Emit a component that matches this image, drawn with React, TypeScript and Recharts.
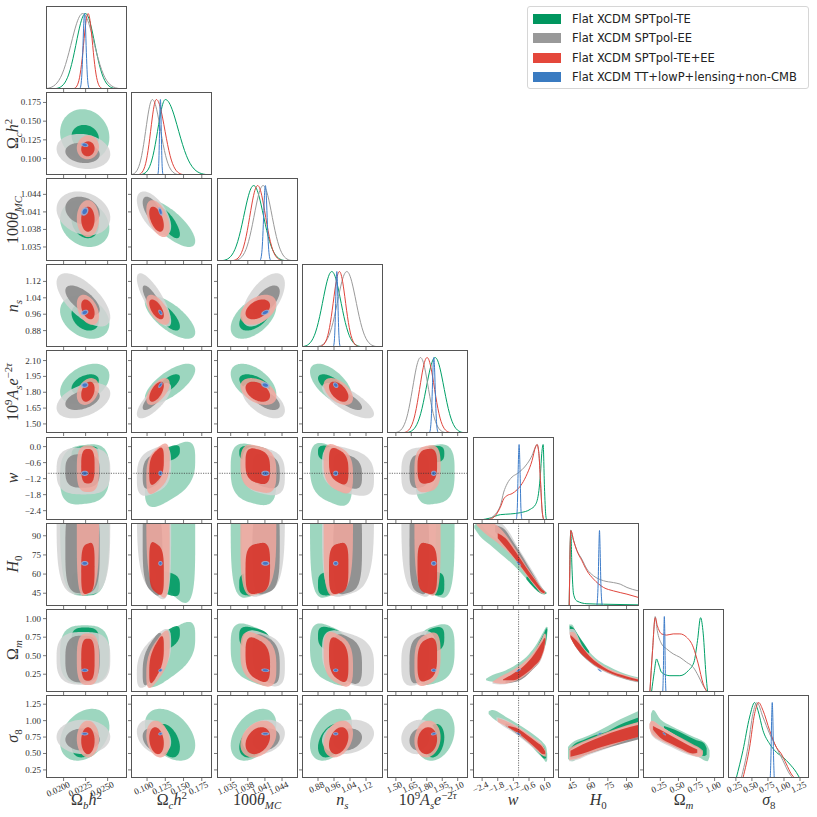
import { ComposedChart, Area, Line, XAxis, YAxis, ReferenceLine } from 'recharts'

// ---- layout of the triangle grid (pixels) ----
const PANEL_LEFT0 = 46
const COL_STEP = 85.3
const PANEL_TOP0 = 6
const ROW_STEP = 86.1
const PW = 81
const PH = 83
const YW = 45
const XH = 50
const panelLeft = (c: number) => PANEL_LEFT0 + COL_STEP * c
const panelTop = (r: number) => PANEL_TOP0 + ROW_STEP * r

// ---- parameters: axis ranges and ticks ----
const paramDomains: [number, number][] = [
  [0.018, 0.0272], [0.078, 0.189], [1.0326, 1.0468], [0.8, 1.205], [1.414, 2.2],
  [-2.75, 0.36], [35, 100], [0.01, 1.13], [0.127, 1.39],
]
const paramTicks = [
  [0.02, 0.0225, 0.025], [0.1, 0.125, 0.15, 0.175], [1.035, 1.038, 1.041, 1.044],
  [0.88, 0.96, 1.04, 1.12], [1.5, 1.65, 1.8, 1.95, 2.1], [-2.4, -1.8, -1.2, -0.6, 0],
  [45, 60, 75, 90], [0.25, 0.5, 0.75, 1.0], [0.25, 0.5, 0.75, 1.0, 1.25],
]
const paramTickLabels = [
  ['0.0200', '0.0225', '0.0250'], ['0.100', '0.125', '0.150', '0.175'],
  ['1.035', '1.038', '1.041', '1.044'], ['0.88', '0.96', '1.04', '1.12'],
  ['1.50', '1.65', '1.80', '1.95', '2.10'], ['\u22122.4', '\u22121.8', '\u22121.2', '\u22120.6', '0.0'],
  ['45', '60', '75', '90'], ['0.25', '0.50', '0.75', '1.00'], ['0.25', '0.50', '0.75', '1.00', '1.25'],
]
// how square the filled regions look for each parameter (2 = round)
const paramBoxiness = [2, 2, 2, 2, 2, 3, 3.5, 3, 2]

// ---- series ----
const seriesNames = [
  'Flat XCDM SPTpol-TE',
  'Flat XCDM SPTpol-EE',
  'Flat XCDM SPTpol-TE+EE',
  'Flat XCDM TT+lowP+lensing+non-CMB',
]
const legendColors = ['#00965f', '#999999', '#e4473b', '#3a7bc1']
const darkColors = ['#009a63', '#8a8a8a', '#d6342a', '#3b70c4']
const lightColors = ['#8ccfb4', '#d4d4d4', '#f1a79d', '#8cb1e2']
const lineColors = ['#00a067', '#9a9a9a', '#e0453c', '#3d7cc9']

// 2D contour extents per parameter: [lo95, lo68, hi68, hi95]
const teRanges = [
  [0.0196, 0.0209, 0.024, 0.0252], [0.097, 0.112, 0.145, 0.166], [1.035, 1.0365, 1.0419, 1.043],
  [0.84, 0.88, 1.01, 1.05], [1.69, 1.78, 1.97, 2.07], [-2.15, -0.6, 0.02, 0.07],
  [43, 43.5, 62, 175], [0.12, 0.55, 0.88, 0.91], [0.39, 0.44, 0.95, 1.18],
]
const eeRanges = [
  [0.0192, 0.0202, 0.0241, 0.0253], [0.086, 0.094, 0.121, 0.133], [1.037, 1.0388, 1.0436, 1.0445],
  [0.9, 0.956, 1.1, 1.16], [1.553, 1.632, 1.823, 1.887], [-1.79, -1.54, -0.28, -0.03],
  [43.7, 45, 115, 170], [0.108, 0.139, 0.77, 0.82], [0.49, 0.545, 0.88, 1.015],
]
const teeeRanges = [
  [0.0215, 0.022, 0.02352, 0.02402], [0.099, 0.103, 0.123, 0.131], [1.0367, 1.0376, 1.0419, 1.043],
  [0.908, 0.935, 1.032, 1.055], [1.68, 1.71, 1.9, 1.934], [-1.7, -1.38, -0.09, 0.04],
  [44.3, 44.8, 84, 150], [0.104, 0.162, 0.73, 0.8], [0.44, 0.49, 0.9, 1.0],
]
const plRanges = [
  [0.02198, 0.02214, 0.02266, 0.02282], [0.1153, 0.1165, 0.1201, 0.1213], [1.04035, 1.04062, 1.04154, 1.04181],
  [0.955, 0.96, 0.977, 0.982], [1.84, 1.852, 1.884, 1.895], [-1.1, -1.06, -0.94, -0.9],
  [66.5, 67.3, 69.5, 70.3], [0.28, 0.288, 0.318, 0.326], [0.775, 0.788, 0.812, 0.825],
]

// tilt (correlation) of each 2D panel, row by row below the diagonal
const teCorr = [-0.1, -0.2, -0.75, -0.3, -0.7, 0.5, 0.4, 0.7, -0.5, -0.6, 0.1, 0.5, -0.2, -0.3, 0.1,
  0, -0.3, 0.1, 0.1, -0.1, 0, 0, 0.6, -0.3, -0.3, 0.2, 0, 0, 0.3, -0.4, 0.4, 0.4, 0.2, -0.95, 0, -0.9]
const eeCorr = [-0.15, -0.2, -0.6, -0.65, -0.8, 0.6, 0.4, 0.75, -0.55, -0.75, 0, 0.3, -0.2, -0.3, 0.1,
  0, -0.2, 0.1, 0.1, -0.1, 0, 0, 0.6, -0.3, -0.3, 0.2, 0, 0, 0, -0.3, 0.2, 0.2, 0.1, -0.93, 0, -0.88]
const teeeCorr = [0.05, 0, -0.5, -0.4, -0.6, 0.4, 0.3, 0.6, -0.4, -0.5, 0, 0.4, -0.2, -0.3, 0.1,
  0.1, -0.2, 0.1, 0.1, -0.1, 0, 0, 0.6, -0.3, -0.3, 0.2, 0, 0, 0, -0.2, 0.3, 0.3, 0.1, -0.95, 0, -0.9]
const plCorr = [-0.3, 0.3, -0.5, 0.3, -0.5, 0.5, 0.1, 0.6, -0.3, -0.3, 0, 0, 0, 0, 0,
  0, 0, 0, 0, 0, -0.9, 0, 0.3, -0.2, 0, 0, 0.8, -0.9, 0, 0.2, 0, 0, 0.3, -0.8, 0.8, -0.7]

const wH0TE95 = [[-2.7, 96, 98], [-2.5, 90, 101], [-2.1, 83, 101], [-1.7, 76, 95], [-1.3, 69, 86], [-1.0, 63, 76], [-0.6, 54, 64], [-0.3, 47.5, 55], [-0.05, 44, 48], [0.08, 44.5, 45.5]]
const wH0TE68 = [[-0.7, 56, 58], [-0.45, 50, 58], [-0.2, 45.5, 51], [0.0, 44.3, 46.5], [0.06, 45, 45.5]]
const wH0EE95 = [[-2.45, 99, 101], [-2.2, 93, 101], [-1.8, 87, 101], [-1.4, 79, 94], [-1.0, 69, 80], [-0.6, 57, 67], [-0.3, 49, 57], [-0.05, 44.5, 48], [0.02, 45, 46]]
const wH0EE68 = [[-1.9, 93, 98], [-1.6, 86, 96], [-1.2, 76, 85], [-0.8, 64, 72], [-0.45, 53, 60], [-0.15, 46, 50], [0.0, 45, 46.5]]
const wH0TEEE95 = [[-2.6, 98, 101], [-2.3, 92, 101], [-1.9, 86, 99], [-1.5, 79, 91], [-1.1, 70, 79], [-0.7, 59, 66], [-0.35, 50, 56], [-0.08, 44.5, 48], [0.03, 45, 46]]
const wH0TEEE68 = [[-1.8, 88, 92], [-1.5, 81, 88], [-1.1, 71, 77], [-0.7, 60, 65], [-0.35, 51, 55], [-0.1, 45.5, 48], [0.0, 45, 46.5]]

const wOmTE95 = [[-2.25, 0.17, 0.19], [-2.0, 0.15, 0.24], [-1.5, 0.16, 0.3], [-1.0, 0.22, 0.4], [-0.6, 0.32, 0.52], [-0.3, 0.43, 0.66], [-0.05, 0.57, 0.82], [0.08, 0.72, 0.89], [0.12, 0.85, 0.88]]
const wOmTE68 = [[-0.45, 0.42, 0.5], [-0.2, 0.5, 0.68], [0.0, 0.62, 0.82], [0.07, 0.74, 0.87], [0.1, 0.84, 0.86]]
const wOmEE95 = [[-2.0, 0.12, 0.14], [-1.7, 0.11, 0.21], [-1.2, 0.14, 0.3], [-0.8, 0.21, 0.4], [-0.4, 0.33, 0.55], [-0.1, 0.48, 0.73], [0.0, 0.62, 0.8], [0.03, 0.75, 0.78]]
const wOmEE68 = [[-1.5, 0.13, 0.16], [-1.0, 0.16, 0.3], [-0.5, 0.3, 0.48], [-0.1, 0.5, 0.7], [0.0, 0.66, 0.74]]
const wOmTEEE95 = [[-2.0, 0.14, 0.15], [-1.7, 0.12, 0.22], [-1.2, 0.15, 0.31], [-0.8, 0.22, 0.41], [-0.4, 0.34, 0.56], [-0.1, 0.49, 0.73], [0.02, 0.63, 0.8], [0.05, 0.76, 0.78]]
const wOmTEEE68 = [[-1.6, 0.17, 0.18], [-1.2, 0.17, 0.26], [-0.8, 0.24, 0.36], [-0.4, 0.36, 0.52], [-0.1, 0.51, 0.68], [0.0, 0.64, 0.74], [0.03, 0.72, 0.73]]

const h0OmTE95 = [[44, 0.86, 0.92], [46, 0.72, 0.92], [50, 0.62, 0.8], [55, 0.52, 0.66], [65, 0.37, 0.47], [75, 0.27, 0.36], [85, 0.21, 0.28], [101, 0.14, 0.2]]
const h0OmTE68 = [[44.5, 0.85, 0.9], [47, 0.78, 0.88], [52, 0.66, 0.76], [56, 0.58, 0.66], [60, 0.53, 0.56]]
const h0OmEE95 = [[44, 0.8, 0.86], [47, 0.68, 0.86], [55, 0.5, 0.62], [65, 0.35, 0.44], [75, 0.26, 0.33], [85, 0.2, 0.26], [101, 0.13, 0.19]]
const h0OmEE68 = [[45, 0.76, 0.8], [50, 0.6, 0.72], [60, 0.42, 0.5], [75, 0.27, 0.31], [90, 0.18, 0.22], [101, 0.14, 0.17]]
const h0OmTEEE95 = [[44.5, 0.78, 0.82], [47, 0.68, 0.82], [55, 0.51, 0.61], [65, 0.36, 0.44], [75, 0.27, 0.33], [85, 0.21, 0.26], [101, 0.14, 0.18]]
const h0OmTEEE68 = [[45, 0.74, 0.78], [50, 0.6, 0.7], [60, 0.43, 0.5], [75, 0.28, 0.31], [90, 0.19, 0.22], [101, 0.15, 0.17]]

const wS8TE95 = [[-2.15, 1.1, 1.14], [-2.0, 1.04, 1.16], [-1.5, 0.93, 1.06], [-1.0, 0.8, 0.94], [-0.6, 0.66, 0.84], [-0.3, 0.52, 0.75], [-0.05, 0.42, 0.66], [0.06, 0.37, 0.6], [0.1, 0.4, 0.5]]
const wS8TE68 = [[-0.8, 0.74, 0.78], [-0.5, 0.62, 0.72], [-0.2, 0.5, 0.66], [0.0, 0.42, 0.58], [0.06, 0.43, 0.5]]
const wS8EE95 = [[-1.85, 1.0, 1.05], [-1.6, 0.92, 1.03], [-1.2, 0.82, 0.95], [-0.8, 0.7, 0.85], [-0.4, 0.57, 0.73], [-0.1, 0.48, 0.64], [0.0, 0.46, 0.56]]
const wS8EE68 = [[-1.5, 0.92, 0.96], [-1.2, 0.84, 0.92], [-0.8, 0.72, 0.82], [-0.4, 0.59, 0.7], [-0.1, 0.5, 0.6], [0.0, 0.49, 0.54]]
const wS8TEEE95 = [[-1.8, 0.98, 1.04], [-1.5, 0.92, 1.0], [-1.1, 0.82, 0.92], [-0.7, 0.69, 0.82], [-0.3, 0.55, 0.7], [-0.05, 0.46, 0.61], [0.05, 0.45, 0.54]]
const wS8TEEE68 = [[-1.4, 0.9, 0.92], [-1.1, 0.83, 0.89], [-0.7, 0.71, 0.79], [-0.3, 0.57, 0.67], [-0.05, 0.49, 0.58], [0.02, 0.49, 0.53]]

const h0S8TE95 = [[43, 0.42, 0.6], [46, 0.38, 0.66], [55, 0.5, 0.74], [65, 0.58, 0.82], [75, 0.65, 0.92], [85, 0.72, 1.02], [101, 0.8, 1.16]]
const h0S8TE68 = [[44, 0.45, 0.56], [48, 0.46, 0.64], [55, 0.55, 0.7], [65, 0.64, 0.78], [75, 0.72, 0.84], [85, 0.78, 0.94], [101, 0.86, 1.06]]
const h0S8EE95 = [[44, 0.38, 0.55], [50, 0.4, 0.62], [60, 0.48, 0.7], [75, 0.58, 0.82], [90, 0.68, 0.92], [101, 0.74, 0.98]]
const h0S8EE68 = [[45, 0.42, 0.52], [55, 0.47, 0.63], [70, 0.56, 0.74], [85, 0.64, 0.84], [101, 0.72, 0.92]]
const h0S8TEEE95 = [[44, 0.4, 0.58], [50, 0.42, 0.64], [60, 0.5, 0.72], [75, 0.6, 0.83], [90, 0.7, 0.93], [101, 0.76, 0.99]]
const h0S8TEEE68 = [[45, 0.45, 0.54], [55, 0.5, 0.64], [70, 0.6, 0.76], [85, 0.68, 0.86], [101, 0.76, 0.94]]

const omS8TE95 = [[0.12, 0.95, 1.1], [0.15, 0.9, 1.16], [0.25, 0.82, 1.02], [0.4, 0.72, 0.92], [0.55, 0.63, 0.84], [0.7, 0.52, 0.76], [0.82, 0.42, 0.7], [0.9, 0.38, 0.62], [0.93, 0.45, 0.55]]
const omS8TE68 = [[0.3, 0.88, 0.92], [0.45, 0.78, 0.86], [0.6, 0.68, 0.78], [0.75, 0.56, 0.7], [0.85, 0.46, 0.66], [0.89, 0.48, 0.58]]
const omS8EE95 = [[0.1, 0.9, 0.95], [0.13, 0.78, 1.0], [0.25, 0.68, 0.92], [0.4, 0.6, 0.82], [0.55, 0.52, 0.72], [0.7, 0.46, 0.62], [0.8, 0.44, 0.56], [0.83, 0.48, 0.52]]
const omS8EE68 = [[0.14, 0.82, 0.92], [0.25, 0.72, 0.86], [0.4, 0.63, 0.76], [0.55, 0.55, 0.67], [0.7, 0.49, 0.58], [0.76, 0.5, 0.54]]
const omS8TEEE95 = [[0.1, 0.88, 0.95], [0.13, 0.8, 1.0], [0.25, 0.7, 0.92], [0.4, 0.62, 0.82], [0.55, 0.54, 0.73], [0.7, 0.47, 0.64], [0.8, 0.45, 0.58], [0.84, 0.49, 0.54]]
const omS8TEEE68 = [[0.15, 0.86, 0.92], [0.25, 0.74, 0.86], [0.4, 0.65, 0.77], [0.55, 0.57, 0.68], [0.7, 0.5, 0.59], [0.76, 0.51, 0.56]]

// 1D marginals: peak and widths of the near-Gaussian parameters (first five)
const teMean = [0.02248, 0.1251, 1.03903, 0.949, 1.881]
const teSdLeft = [0.00105, 0.0103, 0.0017, 0.045, 0.085]
const teSdRight = [0.00105, 0.0175, 0.0017, 0.045, 0.085]
const eeMean = [0.02217, 0.1073, 1.04068, 1.024, 1.739]
const eeSdLeft = [0.0013, 0.0089, 0.00155, 0.046, 0.075]
const eeSdRight = [0.0013, 0.011, 0.00155, 0.046, 0.075]
const teeeMean = [0.02278, 0.1128, 1.03973, 0.987, 1.803]
const teeeSdLeft = [0.0005, 0.0076, 0.00135, 0.03, 0.07]
const teeeSdRight = [0.0005, 0.0114, 0.00135, 0.03, 0.07]
const plMean = [0.02238, 0.1183, 1.04108, 0.974, 1.868]
const plSd = [0.00017, 0.00116, 0.0003, 0.0055, 0.0135]

// 1D marginals read point by point: [x, y]
const wTE = [[-2.47, 0], [-2.09, 0.026], [-1.7, 0.071], [-1.32, 0.08], [-0.93, 0.097], [-0.55, 0.142], [-0.35, 0.204], [-0.22, 0.39], [-0.16, 0.613], [-0.11, 0.88], [-0.057, 1.0], [-0.006, 0.435], [0.046, 0.057], [0.084, 0]]
const wEE = [[-2.2, 0], [-2.09, 0.02], [-1.7, 0.19], [-1.57, 0.37], [-1.44, 0.48], [-1.25, 0.57], [-1.06, 0.613], [-0.87, 0.666], [-0.67, 0.746], [-0.48, 0.857], [-0.35, 0.97], [-0.29, 1.0], [-0.22, 0.88], [-0.16, 0.52], [-0.095, 0.12], [-0.03, 0]]
const wTEEE = [[-2.3, 0], [-2.09, 0.01], [-1.7, 0.169], [-1.57, 0.28], [-1.44, 0.324], [-1.25, 0.35], [-1.06, 0.4], [-0.87, 0.48], [-0.67, 0.613], [-0.48, 0.79], [-0.35, 0.968], [-0.29, 1.0], [-0.22, 0.88], [-0.16, 0.524], [-0.095, 0.124], [-0.03, 0]]
const wPL = [[-1.09, 0], [-1.05, 0.15], [-1.02, 0.6], [-0.98, 1], [-0.94, 0.6], [-0.91, 0.15], [-0.87, 0]]

const h0TE = [[44, 0], [45.3, 1.0], [46.1, 0.557], [47.5, 0.157], [50.1, 0.067], [58.2, 0.03], [71.5, 0.024], [99.6, 0.015]]
const h0EE = [[44, 0], [45.3, 1.0], [47.5, 0.87], [50.1, 0.74], [54.2, 0.62], [58.2, 0.49], [63.5, 0.4], [71.5, 0.335], [79.6, 0.31], [84.9, 0.29], [90.3, 0.246], [99.6, 0.2]]
const h0TEEE = [[44, 0], [45.3, 1.0], [47.5, 0.868], [50.1, 0.735], [54.2, 0.6], [58.2, 0.468], [63.5, 0.357], [71.5, 0.246], [79.6, 0.2], [90.3, 0.157], [99.6, 0.113]]
const h0PL = [[66.2, 0], [67.2, 0.3], [67.8, 0.75], [68.3, 1], [68.8, 0.75], [69.4, 0.3], [70.5, 0]]

const omTE = [[0.128, 0], [0.165, 0.26], [0.197, 0.438], [0.225, 0.372], [0.267, 0.26], [0.382, 0.216], [0.52, 0.216], [0.636, 0.283], [0.714, 0.394], [0.764, 0.683], [0.806, 0.985], [0.843, 0.77], [0.88, 0.238], [0.903, 0]]
const omEE = [[0.105, 0], [0.142, 0.55], [0.179, 1.0], [0.207, 0.816], [0.267, 0.638], [0.336, 0.572], [0.428, 0.505], [0.52, 0.46], [0.612, 0.394], [0.705, 0.327], [0.774, 0.216], [0.843, 0.083], [0.898, 0]]
const omTEEE = [[0.105, 0], [0.142, 0.55], [0.179, 0.985], [0.207, 0.883], [0.267, 0.77], [0.336, 0.754], [0.428, 0.77], [0.52, 0.77], [0.612, 0.727], [0.705, 0.594], [0.774, 0.372], [0.843, 0.105], [0.898, 0]]
const omPL = [[0.283, 0], [0.292, 0.3], [0.299, 0.8], [0.305, 1], [0.311, 0.8], [0.318, 0.3], [0.327, 0]]

const s8TE = [[0.256, 0], [0.36, 0.364], [0.464, 0.808], [0.542, 1.0], [0.594, 0.897], [0.672, 0.631], [0.776, 0.453], [0.88, 0.342], [0.984, 0.275], [1.088, 0.186], [1.192, 0.075], [1.244, 0]]
const s8EE = [[0.334, 0], [0.438, 0.409], [0.516, 0.853], [0.578, 1.0], [0.672, 0.808], [0.776, 0.586], [0.88, 0.409], [0.984, 0.231], [1.088, 0.053], [1.14, 0]]
const s8TEEE = [[0.36, 0], [0.464, 0.409], [0.542, 0.853], [0.605, 1.0], [0.672, 0.897], [0.776, 0.631], [0.88, 0.409], [0.958, 0.32], [1.036, 0.186], [1.114, 0.053], [1.166, 0]]
const s8PL = [[0.786, 0], [0.797, 0.3], [0.808, 0.8], [0.817, 1], [0.826, 0.8], [0.837, 0.3], [0.848, 0]]

// ---- tables built from the arrays above ----
const allRanges = [teRanges, eeRanges, teeeRanges, plRanges]
const allCorr = [teCorr, eeCorr, teeeCorr, plCorr]
const gaussPeaks = [teMean, eeMean, teeeMean, plMean]
const gaussLeft = [teSdLeft, eeSdLeft, teeeSdLeft, plSd]
const gaussRight = [teSdRight, eeSdRight, teeeSdRight, plSd]
const readMarginals: Record<number, number[][][]> = {
  5: [wTE, wEE, wTEEE, wPL],
  6: [h0TE, h0EE, h0TEEE, h0PL],
  7: [omTE, omEE, omTEEE, omPL],
  8: [s8TE, s8EE, s8TEEE, s8PL],
}
// key: "row-col" (0-based); value: [95%, 68%] per series (TE, EE, TE+EE)
const readBands: Record<string, number[][][][]> = {
  '6-5': [[wH0TE95, wH0TE68], [wH0EE95, wH0EE68], [wH0TEEE95, wH0TEEE68]],
  '7-5': [[wOmTE95, wOmTE68], [wOmEE95, wOmEE68], [wOmTEEE95, wOmTEEE68]],
  '7-6': [[h0OmTE95, h0OmTE68], [h0OmEE95, h0OmEE68], [h0OmTEEE95, h0OmTEEE68]],
  '8-5': [[wS8TE95, wS8TE68], [wS8EE95, wS8EE68], [wS8TEEE95, wS8TEEE68]],
  '8-6': [[h0S8TE95, h0S8TE68], [h0S8EE95, h0S8EE68], [h0S8TEEE95, h0S8TEEE68]],
  '8-7': [[omS8TE95, omS8TE68], [omS8EE95, omS8EE68], [omS8TEEE95, omS8TEEE68]],
}

// outline of a tilted (super)ellipse spanning the given x and y extents, as [lo, hi] per x
const ellipseRows = (xr: number[], yr: number[], rho: number, p: number) => {
  const cx = (xr[0] + xr[1]) / 2
  const a = (xr[1] - xr[0]) / 2
  const cy = (yr[0] + yr[1]) / 2
  const b = (yr[1] - yr[0]) / 2
  const q = Math.sqrt(1 - rho * rho)
  const rows = []
  for (let i = 0; i <= 48; i++) {
    const u = -Math.cos((Math.PI * i) / 48)
    const s = Math.pow(Math.max(0, 1 - Math.pow(Math.abs(u), p)), 1 / p)
    rows.push({ x: cx + a * u, r: [cy + b * (rho * u - q * s), cy + b * (rho * u + q * s)] })
  }
  return rows
}

const bandRows = (band: number[][]) => band.map(([x, lo, hi]) => ({ x, r: [lo, hi] }))

const gaussRows = (m: number, sl: number, sr: number) => {
  const rows = []
  for (let i = 0; i <= 48; i++) {
    const z = -3.6 + (7.2 * i) / 48
    rows.push({ x: m + z * (z < 0 ? sl : sr), y: Math.exp(-0.5 * z * z) })
  }
  return rows
}

const SERIF = '"Liberation Serif", "DejaVu Serif", serif'
const FRAME = '#555'

const labelFor = (p: number, v: number) => {
  const t = paramTicks[p]
  let best = 0
  t.forEach((tv, i) => { if (Math.abs(tv - v) < Math.abs(t[best] - v)) best = i })
  return paramTickLabels[p][best]
}

const makeXTick = (p: number, show: boolean) => (props: any) => {
  if (!show) return <g />
  const { x, y, payload } = props
  return (
    <g transform={`translate(${x},${y - 2}) rotate(-25)`}>
      <text x={4} y={8} textAnchor="end" fontSize={9} fontFamily={SERIF} fill="#333">
        {labelFor(p, payload.value)}
      </text>
    </g>
  )
}

const makeYTick = (p: number, show: boolean) => (props: any) => {
  if (!show) return <g />
  const { x, y, payload } = props
  return (
    <text x={x} y={y} dy={3} textAnchor="end" fontSize={9} fontFamily={SERIF} fill="#333">
      {labelFor(p, payload.value)}
    </text>
  )
}

function Panel({ r, c }: { r: number; c: number }) {
  const diag = r === c
  const xd = paramDomains[c]
  const yd: [number, number] = diag ? [0, 1.1] : paramDomains[r]
  const showX = r === 8
  const showY = c === 0 && !diag
  const series: any[] = []

  if (diag) {
    for (let s = 0; s < 4; s++) {
      const rows = c < 5
        ? gaussRows(gaussPeaks[s][c], gaussLeft[s][c], gaussRight[s][c])
        : readMarginals[c][s].map(([x, y]) => ({ x, y }))
      series.push(
        <Line key={`l${s}`} data={rows} dataKey="y" type="monotone" stroke={lineColors[s]}
          strokeWidth={1} dot={false} activeDot={false} isAnimationActive={false} />
      )
    }
  } else {
    const k = r * (r - 1) / 2 + c
    const bands = readBands[`${r}-${c}`]
    const p = Math.max(paramBoxiness[r], paramBoxiness[c])
    for (let s = 0; s < 4; s++) {
      const xr = allRanges[s][c]
      const yr = allRanges[s][r]
      const rho = allCorr[s][k]
      const typed = bands && s < 3
      const shape = s < 3 ? p : 2
      const outer = typed ? bandRows(bands[s][0]) : ellipseRows([xr[0], xr[3]], [yr[0], yr[3]], rho, shape)
      const inner = typed ? bandRows(bands[s][1]) : ellipseRows([xr[1], xr[2]], [yr[1], yr[2]], rho, shape)
      series.push(
        <Area key={`o${s}`} data={outer} dataKey="r" type={typed ? 'monotone' : 'linear'}
          stroke="none" fill={lightColors[s]} fillOpacity={0.85} dot={false} activeDot={false}
          isAnimationActive={false} />,
        <Area key={`i${s}`} data={inner} dataKey="r" type={typed ? 'monotone' : 'linear'}
          stroke="none" fill={darkColors[s]} fillOpacity={0.9} dot={false} activeDot={false}
          isAnimationActive={false} />
      )
    }
  }

  return (
    <div style={{ position: 'absolute', left: panelLeft(c) - YW, top: panelTop(r), width: PW + YW, height: PH + XH }}>
      <ComposedChart width={PW + YW} height={PH + XH} margin={{ top: 0, right: 0, bottom: 0, left: 0 }}>
        <XAxis type="number" dataKey="x" domain={xd} allowDataOverflow ticks={paramTicks[c]} interval={0}
          height={XH} axisLine={false} tickSize={3} tickMargin={2} tickLine={{ stroke: FRAME, strokeWidth: 0.8 }}
          tick={makeXTick(c, showX)} />
        <YAxis type="number" domain={yd} allowDataOverflow width={YW} axisLine={false}
          ticks={diag ? [] : paramTicks[r]} interval={0} tickSize={3} tickMargin={2}
          tickLine={diag ? false : { stroke: FRAME, strokeWidth: 0.8 }} tick={makeYTick(r, showY)} />
        {series}
        {r === 5 && c < 5 && (
          <ReferenceLine y={-1} stroke="#333" strokeWidth={0.7} strokeDasharray="1.2 1.2" />
        )}
        {c === 5 && r > 5 && (
          <ReferenceLine x={-1} stroke="#333" strokeWidth={0.7} strokeDasharray="1.2 1.2" />
        )}
      </ComposedChart>
      <div style={{ position: 'absolute', left: YW, top: 0, width: PW, height: PH, border: `1px solid ${FRAME}`, boxSizing: 'border-box', pointerEvents: 'none' }} />
    </div>
  )
}

const subStyle = { fontSize: '68%', lineHeight: 0 }
const paramTitles = [
  <>Ω<sub style={subStyle}><i>b</i></sub><i>h</i><sup style={subStyle}>2</sup></>,
  <>Ω<sub style={subStyle}><i>c</i></sub><i>h</i><sup style={subStyle}>2</sup></>,
  <>100<i>θ</i><sub style={subStyle}><i>MC</i></sub></>,
  <><i>n</i><sub style={subStyle}><i>s</i></sub></>,
  <>10<sup style={subStyle}>9</sup><i>A</i><sub style={subStyle}><i>s</i></sub><i>e</i><sup style={subStyle}>−2<i>τ</i></sup></>,
  <i>w</i>,
  <><i>H</i><sub style={subStyle}>0</sub></>,
  <>Ω<sub style={subStyle}><i>m</i></sub></>,
  <><i>σ</i><sub style={subStyle}>8</sub></>,
]

export default function App() {
  const panels = []
  for (let r = 0; r < 9; r++) for (let c = 0; c <= r; c++) panels.push(<Panel key={`${r}-${c}`} r={r} c={c} />)
  return (
    <div style={{ position: 'absolute', left: 0, top: 0, width: 817, height: 817, background: '#fff', overflow: 'hidden' }}>
      {panels}
      {paramTitles.map((t, c) => (
        <div key={`xt${c}`} style={{ position: 'absolute', left: panelLeft(c) + PW / 2 - 50, top: 791, width: 100, textAlign: 'center', fontFamily: SERIF, fontSize: 16, lineHeight: '18px', color: '#333' }}>{t}</div>
      ))}
      {paramTitles.map((t, r) => r === 0 ? null : (
        <div key={`yt${r}`} style={{ position: 'absolute', left: 13 - 50, top: panelTop(r) + PH / 2 - 9, width: 100, textAlign: 'center', fontFamily: SERIF, fontSize: 16, lineHeight: '18px', color: '#333', transform: 'rotate(-90deg)' }}>{t}</div>
      ))}
      <div style={{ position: 'absolute', left: 527, top: 6, width: 282, height: 83, border: '1px solid #d6d6d6', borderRadius: 3, boxSizing: 'border-box', background: '#fff' }}>
        {seriesNames.map((n, i) => (
          <div key={n} style={{ position: 'absolute', left: 5, top: 5.5 + i * 19.5, height: 12, display: 'flex', alignItems: 'center' }}>
            <div style={{ width: 28, height: 10, background: legendColors[i] }} />
            <span style={{ marginLeft: 11, fontFamily: '"DejaVu Sans", sans-serif', fontSize: 11.5, color: '#222', whiteSpace: 'nowrap' }}>{n}</span>
          </div>
        ))}
      </div>
    </div>
  )
}
